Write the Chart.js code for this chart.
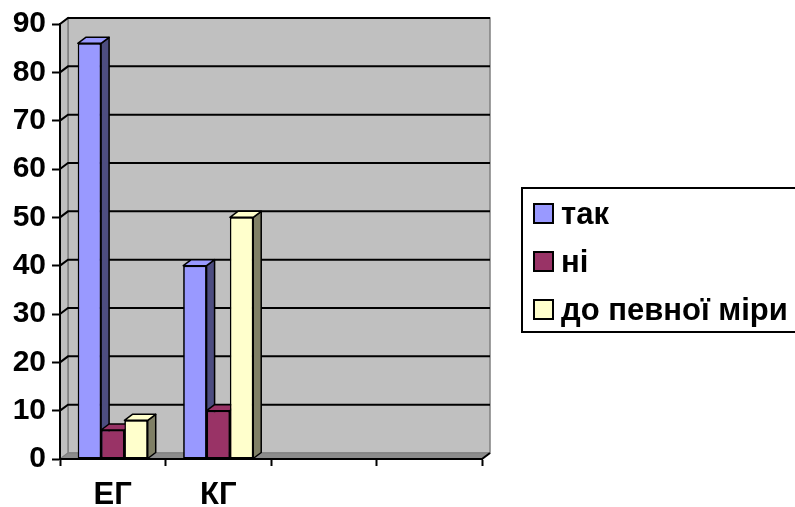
<!DOCTYPE html>
<html>
<head>
<meta charset="utf-8">
<script src="https://cdn.jsdelivr.net/npm/chart.js@4"></script>
<style>
html, body { margin: 0; padding: 0; background: #fff; }
#wrap { width: 795px; height: 507px; position: relative; }
</style>
</head>
<body>
<div id="wrap"><canvas id="chart"></canvas></div>
<script>
// groups and answers
var groups = ['ЕГ', 'КГ', '', ''];
var seriesNames = ['так', 'ні', 'до певної міри'];
var tak = [86, 40, null, null];
var ni = [6, 10, null, null];
var partly = [8, 50, null, null];
var yTicks = [0, 10, 20, 30, 40, 50, 60, 70, 80, 90];

var faceColors = ['#9999FF', '#993366', '#FFFFCC'];
var sideColors = ['#4D4D80', '#4D1A33', '#808066'];
var DX = 8, DY = -6;   // depth offset of the 3d box
var FONT = 'Liberation Sans, Arial, sans-serif';

function poly(ctx, pts, fill, stroke, lw) {
  ctx.beginPath();
  ctx.moveTo(pts[0][0], pts[0][1]);
  for (var i = 1; i < pts.length; i++) ctx.lineTo(pts[i][0], pts[i][1]);
  ctx.closePath();
  if (fill) { ctx.fillStyle = fill; ctx.fill(); }
  if (stroke) { ctx.strokeStyle = stroke; ctx.lineWidth = lw || 1; ctx.stroke(); }
}

var depthPlugin = {
  id: 'depth',
  beforeDraw: function(chart) {
    var ctx = chart.ctx, a = chart.chartArea, ys = chart.scales.y;
    var L = a.left, R = a.right, T = a.top, B = a.bottom;
    ctx.save();
    // back wall, left wall, floor
    poly(ctx, [[L + DX, T + DY], [R + DX, T + DY], [R + DX, B + DY], [L + DX, B + DY]], '#C0C0C0', '#808080', 1.5);
    poly(ctx, [[L, T], [L + DX, T + DY], [L + DX, B + DY], [L, B]], '#C0C0C0', '#808080', 1.5);
    poly(ctx, [[L, B], [L + DX, B + DY], [R + DX, B + DY], [R, B]], '#8C8C8C', '#808080', 1);
    // grid lines on the walls
    ctx.strokeStyle = '#000';
    ctx.lineWidth = 2;
    yTicks.forEach(function(v) {
      if (v === 0) return;
      var y = ys.getPixelForValue(v);
      ctx.beginPath();
      ctx.moveTo(L, y);
      ctx.lineTo(L + DX, y + DY);
      ctx.lineTo(R + DX, y + DY);
      ctx.stroke();
    });
    // right corner of the floor
    ctx.beginPath();
    ctx.moveTo(R, B);
    ctx.lineTo(R + DX, B + DY);
    ctx.stroke();
    ctx.restore();
  },
  afterDatasetsDraw: function(chart) {
    var ctx = chart.ctx;
    var bars = [];
    chart.data.datasets.forEach(function(ds, i) {
      chart.getDatasetMeta(i).data.forEach(function(el, j) {
        if (ds.data[j] == null) return;
        bars.push({ el: el, i: i });
      });
    });
    bars.sort(function(a, b) { return a.el.x - b.el.x; });
    ctx.save();
    ctx.lineJoin = 'round';
    bars.forEach(function(b) {
      var p = b.el.getProps(['x', 'y', 'base', 'width'], true);
      var l = p.x - p.width / 2, r = p.x + p.width / 2;
      poly(ctx, [[r, p.y], [r + DX, p.y + DY], [r + DX, p.base + DY], [r, p.base]], sideColors[b.i], '#000', 1.5);
      poly(ctx, [[l, p.y], [l + DX, p.y + DY], [r + DX, p.y + DY], [r, p.y]], faceColors[b.i], '#000', 1.5);
      b.el.draw(ctx);
    });
    ctx.restore();
  },
  afterDraw: function(chart) {
    var ctx = chart.ctx;
    ctx.save();
    ctx.strokeStyle = '#000';
    ctx.lineWidth = 2;
    ctx.strokeRect(522, 188, 300, 144);
    ctx.font = 'bold 31px ' + FONT;
    ctx.textBaseline = 'middle';
    seriesNames.forEach(function(name, i) {
      var cy = 214 + i * 48;
      ctx.fillStyle = faceColors[i];
      ctx.fillRect(534, cy - 10, 19, 19);
      ctx.strokeStyle = '#000';
      ctx.lineWidth = 2;
      ctx.strokeRect(534, cy - 10, 19, 19);
      ctx.fillStyle = '#000';
      ctx.fillText(name, 561, cy + 1);
    });
    ctx.restore();
  }
};

var series = [tak, ni, partly];
new Chart(document.getElementById('chart'), {
  type: 'bar',
  data: {
    labels: groups,
    datasets: series.map(function(values, i) {
      return {
        label: seriesNames[i],
        data: values,
        backgroundColor: faceColors[i],
        borderColor: '#000',
        borderWidth: 1.5,
        borderSkipped: false,
        categoryPercentage: 0.663,
        barPercentage: 1
      };
    })
  },
  options: {
    responsive: true,
    maintainAspectRatio: false,
    animation: false,
    layout: { padding: { top: 24, right: 313, left: 0, bottom: 0 } },
    plugins: { legend: { display: false }, tooltip: { enabled: false } },
    scales: {
      x: {
        afterFit: function(s) { s.height = 48; },
        grid: { display: true, offset: true, drawOnChartArea: false, drawTicks: true, tickLength: 7, tickColor: '#000', tickWidth: 2 },
        border: { display: true, color: '#000', width: 2 },
        ticks: { color: '#000', font: { family: FONT, size: 31, weight: 'bold' }, padding: 11, maxRotation: 0, autoSkip: false }
      },
      y: {
        min: 0, max: 90,
        afterFit: function(s) { s.width = 60; },
        afterBuildTicks: function(s) { s.ticks = yTicks.map(function(v) { return { value: v }; }); },
        grid: { display: true, drawOnChartArea: false, drawTicks: true, tickLength: 8, tickColor: '#000', tickWidth: 2 },
        border: { display: true, color: '#000', width: 2 },
        ticks: { color: '#000', font: { family: FONT, size: 30, weight: 'bold' }, padding: 6 }
      }
    }
  },
  plugins: [depthPlugin]
});
</script>
</body>
</html>
